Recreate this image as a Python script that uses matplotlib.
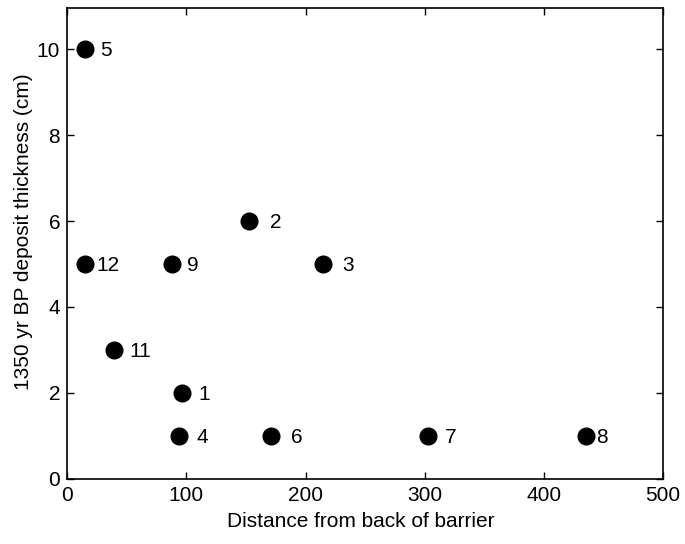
import numpy as np
import matplotlib.pyplot as plt

plt.rcParams['font.family'] = ['Liberation Sans', 'DejaVu Sans']

# site numbers, distance from back of barrier, deposit thickness (cm)
sites = ["5", "12", "9", "2", "3", "11", "1", "4", "6", "7", "8"]
distance = np.array([15, 15, 88, 153, 215, 39, 96, 94, 171, 303, 435])
thickness = np.array([10, 5, 5, 6, 5, 3, 2, 1, 1, 1, 1])
label_dx = [15, 11, 15, 21, 19, 16, 17, 17, 20, 17, 11]

fig = plt.figure(figsize=(6.85, 5.44), dpi=100)
ax = fig.add_axes([0.098, 0.1195, 0.87, 0.8655])

ax.plot(distance, thickness, marker="o", markersize=12, ls="None", color="black")
for s, x, y, dx in zip(sites, distance, thickness, label_dx):
    ax.annotate(s, (x, y), xytext=(dx * 0.72, -1), textcoords="offset points",
                va="center", ha="left", fontsize=15)

ax.set_xlim(0, 500)
ax.set_ylim(0, 10.95)
ax.set_xticks([0, 100, 200, 300, 400, 500])
ax.set_yticks([0, 2, 4, 6, 8, 10])
ax.tick_params(direction="in", top=True, right=True, length=5, width=1,
               labelsize=15, pad=5)
for sp in ax.spines.values():
    sp.set_linewidth(1.2)

ax.set_xlabel("Distance from back of barrier", fontsize=15)
ax.set_ylabel("1350 yr BP deposit thickness (cm)", fontsize=15)
ax.xaxis.set_label_coords(0.493, -0.07)
ax.yaxis.set_label_coords(-0.058, 0.525)

plt.savefig("out.png", dpi=100)
